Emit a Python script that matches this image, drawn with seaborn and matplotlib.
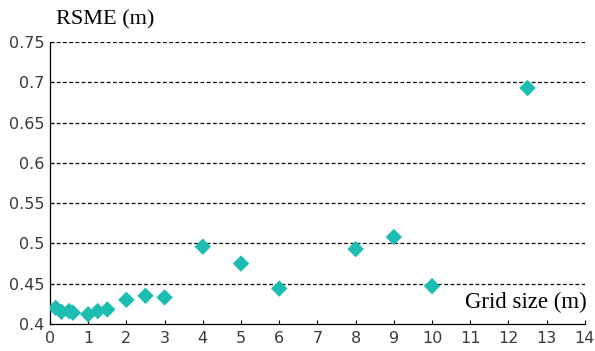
import matplotlib
matplotlib.use("Agg")
import matplotlib.pyplot as plt
import seaborn as sns
import pandas as pd

grid_size = [0.15, 0.3, 0.5, 0.6, 1.0, 1.25, 1.5, 2, 2.5, 3, 4, 5, 6, 8, 9, 10, 12.5]
rsme = [0.420, 0.415, 0.416, 0.414, 0.412, 0.416, 0.418, 0.430, 0.435, 0.433,
        0.496, 0.475, 0.444, 0.493, 0.508, 0.447, 0.693]
x_ticks = list(range(0, 15))
y_ticks = [0.4, 0.45, 0.5, 0.55, 0.6, 0.65, 0.7, 0.75]
y_tick_labels = ["0.4", "0.45", "0.5", "0.55", "0.6", "0.65", "0.7", "0.75"]

df = pd.DataFrame({"Grid size": grid_size, "RSME": rsme})

sns.set_theme(style="white")
plt.rcParams["font.family"] = ["DejaVu Sans"]

fig = plt.figure(figsize=(5.95, 3.51), dpi=100)
ax = fig.add_axes([0.084, 0.077, 0.899, 0.803])

sns.scatterplot(data=df, x="Grid size", y="RSME", marker="D", s=70,
                color="#1DBDB1", edgecolor="none", ax=ax, zorder=3)

ax.set_xlim(0, 14)
ax.set_ylim(0.4, 0.75)
ax.set_xticks(x_ticks)
ax.set_xticklabels([str(t) for t in x_ticks])
ax.set_yticks(y_ticks)
ax.set_yticklabels(y_tick_labels)
ax.tick_params(axis="both", direction="in", length=3, width=0.8, colors="black",
               labelsize=11.5, labelcolor="#3a3a3a", pad=4)
ax.tick_params(axis="x", bottom=True, pad=5)
ax.tick_params(axis="y", left=True)

for y in y_ticks[1:]:
    ax.axhline(y, color="black", lw=0.9, ls=(0, (3, 2)), zorder=1)

for s in ["top", "right"]:
    ax.spines[s].set_visible(False)
for s in ["left", "bottom"]:
    ax.spines[s].set_color("black")
    ax.spines[s].set_linewidth(0.9)

ax.set_xlabel("")
ax.set_ylabel("")
fig.text(56 / 595, 1 - 20 / 351, "RSME (m)", family=["Liberation Serif"],
         fontsize=16, ha="left", va="center", color="black")
ax.text(14.05, 0.4 + 22 / 806, "Grid size (m)", family=["Liberation Serif"],
        fontsize=16.5, ha="right", va="center", color="black")

fig.savefig("out.png", dpi=100)
